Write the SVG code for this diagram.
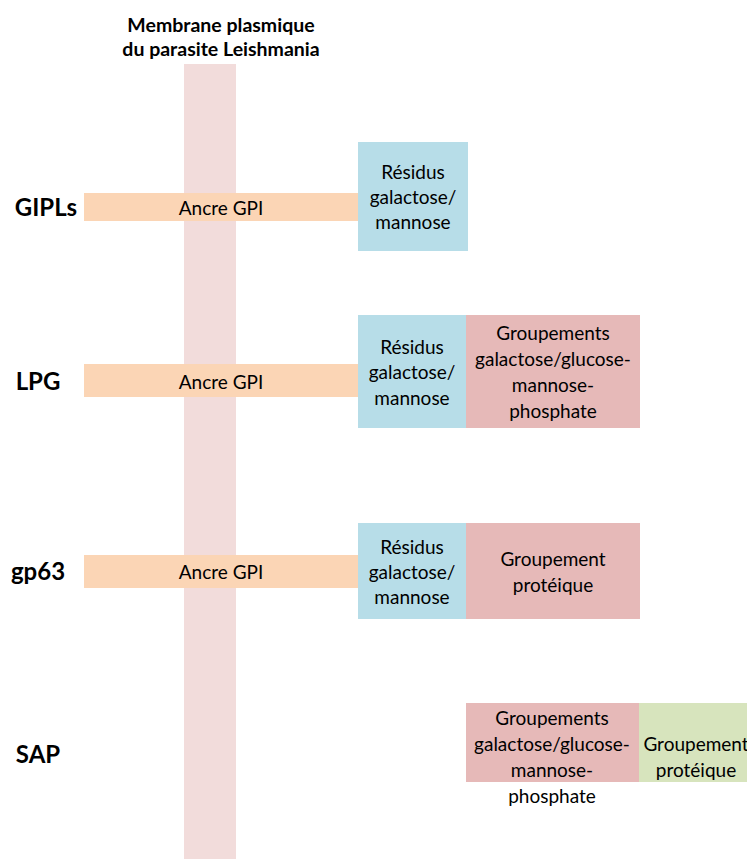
<svg xmlns="http://www.w3.org/2000/svg" width="747" height="859" viewBox="0 0 747 859">
<style>
text{font-family:Lato,"Liberation Sans",sans-serif;fill:#000;text-anchor:middle;dominant-baseline:central}
.t{font-size:19px}
.b{font-size:19.5px;font-weight:bold}
.l{font-size:24px;font-weight:bold}
.mem{fill:#f2dcdb}
.gpi{fill:#fbd5b5}
.res{fill:#b7dde8}
.grp{fill:#e6b9b8}
.pro{fill:#d7e4bd}
</style>
<rect width="747" height="859" fill="#fff"/>
<g id="membrane">
<rect class="mem" x="184" y="64" width="52" height="795"/>
<text class="b" x="221" y="24">Membrane plasmique</text>
<text class="b" x="221" y="48">du parasite Leishmania</text>
</g>
<g id="GIPLs">
<text class="l" x="46" y="206">GIPLs</text>
<rect class="gpi" x="84" y="193" width="274" height="28"/>
<text class="t" x="221" y="207">Ancre GPI</text>
<rect class="res" x="358" y="142" width="110" height="109"/>
<text class="t" x="413" y="171">Résidus</text>
<text class="t" x="413" y="196">galactose/</text>
<text class="t" x="413" y="221">mannose</text>
</g>
<g id="LPG">
<text class="l" x="38" y="380">LPG</text>
<rect class="gpi" x="84" y="364" width="274" height="33"/>
<text class="t" x="221" y="381">Ancre GPI</text>
<rect class="res" x="358" y="315" width="108" height="113"/>
<text class="t" x="412" y="346">Résidus</text>
<text class="t" x="412" y="371">galactose/</text>
<text class="t" x="412" y="397">mannose</text>
<rect class="grp" x="466" y="315" width="174" height="113"/>
<text class="t" x="553" y="332">Groupements</text>
<text class="t" x="553" y="358">galactose/glucose-</text>
<text class="t" x="553" y="384">mannose-</text>
<text class="t" x="553" y="410">phosphate</text>
</g>
<g id="gp63">
<text class="l" x="38" y="570">gp63</text>
<rect class="gpi" x="84" y="555" width="274" height="33"/>
<text class="t" x="221" y="571">Ancre GPI</text>
<rect class="res" x="358" y="523" width="108" height="96"/>
<text class="t" x="412" y="546">Résidus</text>
<text class="t" x="412" y="571">galactose/</text>
<text class="t" x="412" y="596">mannose</text>
<rect class="grp" x="466" y="523" width="174" height="96"/>
<text class="t" x="553" y="558">Groupement</text>
<text class="t" x="553" y="584">protéique</text>
</g>
<g id="SAP">
<text class="l" x="38" y="753">SAP</text>
<rect class="grp" x="466" y="703" width="173" height="79"/>
<text class="t" x="552" y="717">Groupements</text>
<text class="t" x="552" y="743">galactose/glucose-</text>
<text class="t" x="552" y="769">mannose-</text>
<text class="t" x="552" y="795">phosphate</text>
<rect class="pro" x="639" y="703" width="108" height="79"/>
<text class="t" x="696" y="743">Groupement</text>
<text class="t" x="696" y="769">protéique</text>
</g>
<g id="connectors"/>
</svg>
